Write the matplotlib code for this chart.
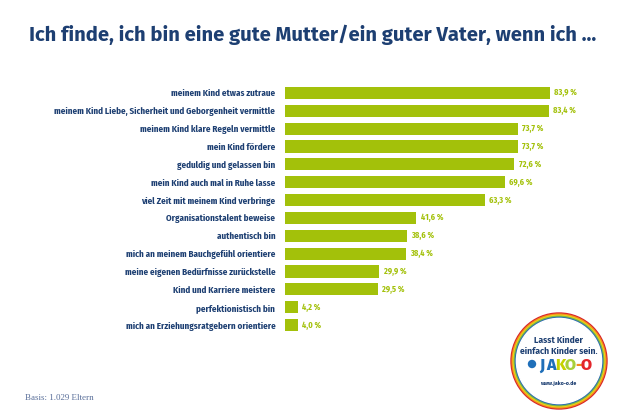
import matplotlib
matplotlib.use("Agg")
import matplotlib.pyplot as plt
from matplotlib.patches import Circle

# Survey answers, top to bottom
labels = ["meinem Kind etwas zutraue",
          "meinem Kind Liebe, Sicherheit und Geborgenheit vermittle",
          "meinem Kind klare Regeln vermittle",
          "mein Kind fördere",
          "geduldig und gelassen bin",
          "mein Kind auch mal in Ruhe lasse",
          "viel Zeit mit meinem Kind verbringe",
          "Organisationstalent beweise",
          "authentisch bin",
          "mich an meinem Bauchgefühl orientiere",
          "meine eigenen Bedürfnisse zurückstelle",
          "Kind und Karriere meistere",
          "perfektionistisch bin",
          "mich an Erziehungsratgebern orientiere"]
values = [83.9, 83.4, 73.7, 73.7, 72.6, 69.6, 63.3, 41.6, 38.6, 38.4, 29.9, 29.5, 4.2, 4.0]

# logo lettering
logo_letters = ["J", "A", "K", "O", "-", "O"]
logo_colors = ["#1f6fb9", "#1f6fb9", "#c5d200", "#a8cf3a", "#f08a1c", "#e3262b"]

navy = "#1d3f72"
green = "#a3c10a"
cond = ["Fira Sans Condensed", "Barlow Semi Condensed", "DejaVu Sans"]
wide = ["Fira Sans", "Open Sans", "DejaVu Sans"]

fig = plt.figure(figsize=(6.3, 4.12), dpi=100)
fig.patch.set_facecolor("white")

fig.text(312.5 / 630, 0.915, "Ich finde, ich bin eine gute Mutter/ein guter Vater, wenn ich ...",
         ha="center", va="center", fontsize=14.6, fontweight="bold", color=navy, family=wide)

ax = fig.add_axes([285 / 630, 78 / 412, 316 / 630, 250 / 412])
pos = list(range(len(values)))
ax.barh(pos, values, height=0.68, color=green)
ax.set_xlim(0, 100)
ax.set_ylim(len(values) - 0.5, -0.5)
for i, v in enumerate(values):
    ax.text(v + 1.3, i, ("%.1f %%" % v).replace(".", ","), va="center", ha="left",
            fontsize=6, fontweight="bold", color=green, family=cond)
ax.set_yticks(pos)
ax.set_yticklabels(labels, fontsize=6.5, fontweight="bold", color=navy, family=cond)
ax.tick_params(axis="y", length=0, pad=7)
ax.set_xticks([])
for s in ax.spines.values():
    s.set_visible(False)

fig.text(25 / 630, 1 - 398 / 412, "Basis: 1.029 Eltern", fontsize=6.5,
         family=["Liberation Serif", "DejaVu Serif"], color="#5a6f9a", va="center")

# JAKO-O logo (rainbow ring badge)
lax = fig.add_axes([(559 - 50) / 630, 1 - (361 + 50) / 412, 100 / 630, 100 / 412])
lax.set_xlim(-50, 50)
lax.set_ylim(-50, 50)
lax.set_aspect("equal")
lax.axis("off")
rings = [(48, "#d9262b"), (46.9, "#f28c1c"), (45.8, "#f3cf16"), (44.7, "#7dbb42"), (43.6, "#2f6fae"), (42.6, "white")]
for r, c in rings:
    lax.add_patch(Circle((0, 0), r, color=c))
lax.text(0, 21, "Lasst Kinder", ha="center", va="center", fontsize=6.2, fontweight="bold",
         color=navy, family=wide)
lax.text(0, 10, "einfach Kinder sein.", ha="center", va="center", fontsize=6.2, fontweight="bold",
         color=navy, family=wide)
xs = [-17, -8, 1.5, 11.5, 19.5, 27]
for t, c, x in zip(logo_letters, logo_colors, xs):
    lax.text(x, -4, t, ha="center", va="center", fontsize=11.5, fontweight="heavy", color=c,
             family=wide)
lax.add_patch(Circle((-27, -3), 3.5, color="#1f6fb9"))
lax.text(0, -22, "www.jako-o.de", ha="center", va="center", fontsize=4.2, fontweight="bold",
         color=navy, family=cond)

fig.savefig("out.png", dpi=100)
